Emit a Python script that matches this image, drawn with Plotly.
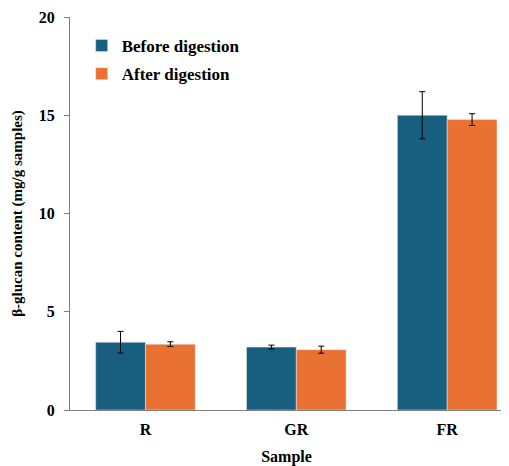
import plotly.graph_objects as go

samples = ["R", "GR", "FR"]
before = [3.45, 3.2, 15.0]
before_err = [0.55, 0.1, 1.2]
after = [3.35, 3.07, 14.78]
after_err = [0.12, 0.18, 0.3]

font = "Times New Roman, Liberation Serif, serif"
fig = go.Figure()
fig.add_bar(x=samples, y=before, name="Before digestion", marker_color="#185E7F",
            legendgroup="a",
            error_y=dict(type="data", array=before_err, color="black", thickness=1, width=3))
fig.add_bar(x=samples, y=after, name="After digestion", marker_color="#E97132",
            legendgroup="b",
            error_y=dict(type="data", array=after_err, color="black", thickness=1, width=3))

fig.update_layout(
    width=501, height=458,
    margin=dict(l=62, r=6, t=9, b=56),
    plot_bgcolor="white", paper_bgcolor="white",
    barmode="group", bargap=0.34, bargroupgap=0,
    font=dict(family=font, color="black", size=16),
    legend=dict(x=0.027, y=0.972, xanchor="left", yanchor="top",
                font=dict(family=font, size=17, color="black", weight="bold"),
                tracegroupgap=3, itemwidth=30, bgcolor="rgba(0,0,0,0)"),
    showlegend=True,
)
fig.update_xaxes(range=[-0.5, 2.37], showline=True, linecolor="#7f7f7f", linewidth=1,
                 ticks="", automargin=False, ticklabelstandoff=5,
                 tickfont=dict(family=font, size=16, weight="bold"),
                 title=dict(text="<b>Sample</b>", font=dict(family=font, size=16), standoff=20))
fig.update_yaxes(range=[0, 20], tickvals=[0, 5, 10, 15, 20], showline=True,
                 linecolor="#7f7f7f", linewidth=1, ticks="outside", ticklen=5,
                 tickcolor="#7f7f7f", showgrid=False, zeroline=False, automargin=False,
                 ticklabelstandoff=6,
                 tickfont=dict(family=font, size=16, weight="bold"),
                 title=dict(text="<b>β-glucan content (mg/g samples)</b>",
                            font=dict(family=font, size=15), standoff=12))
fig.write_html("out.html")
